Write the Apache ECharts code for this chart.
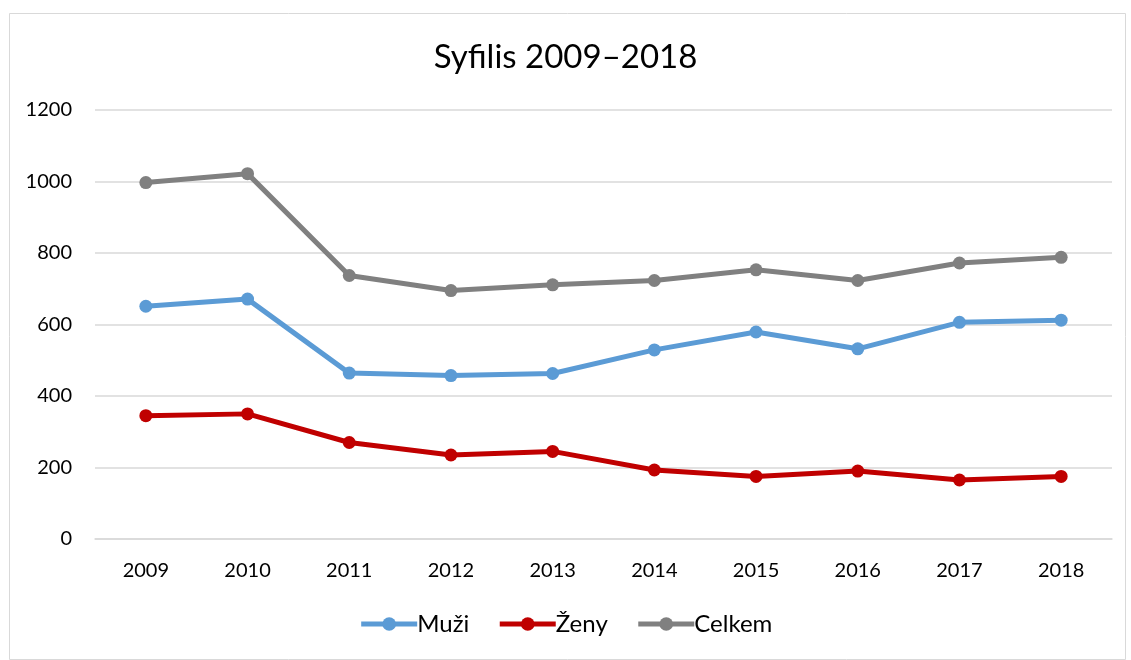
<!DOCTYPE html>
<html>
<head>
<meta charset="utf-8">
<script src="https://cdn.jsdelivr.net/npm/echarts@6/dist/echarts.min.js"></script>
<style>
html,body{margin:0;padding:0;background:#fff;}
#chart{width:1131px;height:660px;}
</style>
</head>
<body>
<div id="chart"></div>
<script>
const years = ['2009','2010','2011','2012','2013','2014','2015','2016','2017','2018'];
const muzi = [651, 671, 464, 457, 463, 529, 579, 532, 606, 612];
const zeny = [345, 350, 270, 235, 245, 193, 175, 190, 165, 175];
const celkem = [997, 1022, 737, 695, 711, 723, 753, 723, 772, 788];
const yTicks = [0, 200, 400, 600, 800, 1000, 1200];

const FONT = 'Lato, "Open Sans", sans-serif';
const chart = echarts.init(document.getElementById('chart'));
function mk(name, data, color) {
  return {
    name, type: 'line', data,
    symbol: 'circle', symbolSize: 13,
    lineStyle: { width: 5, color },
    itemStyle: { color },
    emphasis: { disabled: true },
    animation: false
  };
}
chart.setOption({
  backgroundColor: '#fff',
  animation: false,
  graphic: [{
    type: 'rect', left: 7, top: 11,
    shape: { width: 1116, height: 646 },
    style: { fill: 'none', stroke: '#d9d9d9', lineWidth: 1 },
    silent: true, z: -1
  }],
  title: {
    text: 'Syfilis 2009–2018', left: 'center', top: 36,
    textStyle: { fontFamily: FONT, fontSize: 33, fontWeight: 'normal', color: '#000' }
  },
  legend: {
    bottom: 19, left: 'center', itemWidth: 56, itemHeight: 17, itemGap: 28,
    lineStyle: { width: 5 },
    textStyle: { fontFamily: FONT, fontSize: 24, color: '#000', padding: [0, 0, 0, -5] },
    data: ['Muži', 'Ženy', 'Celkem']
  },
  grid: { left: 95, right: 19, top: 110, bottom: 121, containLabel: false },
  xAxis: {
    type: 'category', data: years, boundaryGap: true,
    axisLine: { lineStyle: { color: '#d9d9d9', width: 1.5 } },
    axisTick: { show: false },
    axisLabel: { fontFamily: FONT, fontSize: 20, color: '#000', margin: 22 }
  },
  yAxis: {
    type: 'value', min: yTicks[0], max: yTicks[yTicks.length - 1], interval: 200,
    axisLine: { show: false }, axisTick: { show: false },
    splitLine: { lineStyle: { color: '#d9d9d9', width: 1.5 } },
    axisLabel: { fontFamily: FONT, fontSize: 20, color: '#000', margin: 23,
      formatter: v => String(v) }
  },
  series: [
    mk('Muži', muzi, '#5B9BD5'),
    mk('Ženy', zeny, '#C00000'),
    mk('Celkem', celkem, '#808080')
  ]
});
</script>
</body>
</html>
